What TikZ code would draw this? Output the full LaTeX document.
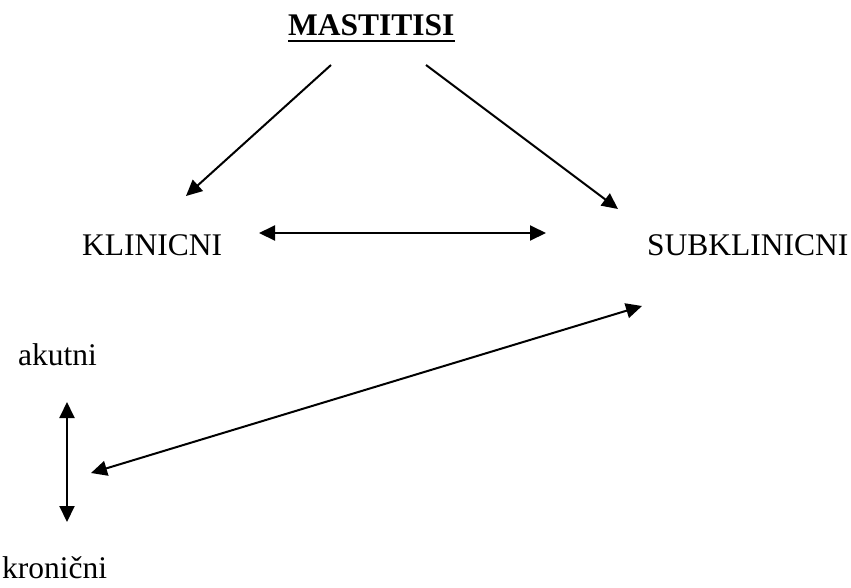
\documentclass[tikz,border=0pt]{standalone}
\usepackage{fontspec}
\setmainfont{Liberation Serif}
\usetikzlibrary{arrows.meta}
\begin{document}
\begin{tikzpicture}[x=1pt,y=-1pt,
  lbl/.style={anchor=base west,inner sep=0pt,font=\fontsize{31.5}{38}\selectfont},
  conn/.style={line width=2pt,-{Triangle[length=16pt,width=15pt]}},
  biconn/.style={line width=2pt,{Triangle[length=16pt,width=15pt]}-{Triangle[length=16pt,width=15pt]}}]
\useasboundingbox (0,0) rectangle (851,587);
\node[lbl,font=\fontsize{31.5}{38}\selectfont\bfseries] (mast) at (288,35) {MASTITISI};
\draw[line width=2.6pt] (mast.base west |- 0,41) -- (mast.base east |- 0,41);
\node[lbl] (klin) at (82,255) {KLINICNI};
\node[lbl] (sub) at (647,255) {SUBKLINICNI};
\node[lbl] (ak) at (18,365) {akutni};
\node[lbl] (kron) at (2,578) {kronični};
\coordinate (m1) at (331,65);
\coordinate (m2) at (426,65);
\coordinate (k1) at (186,196);
\coordinate (s1) at (618,209);
\coordinate (k2) at (259,233);
\coordinate (s2) at (546,233);
\coordinate (s3) at (642,306);
\coordinate (v1) at (91,473);
\coordinate (a1) at (67,402);
\coordinate (a2) at (67,522);
\draw[conn] (m1) -- (k1);
\draw[conn] (m2) -- (s1);
\draw[biconn] (k2) -- (s2);
\draw[biconn] (s3) -- (v1);
\draw[biconn] (a1) -- (a2);
\end{tikzpicture}
\end{document}
